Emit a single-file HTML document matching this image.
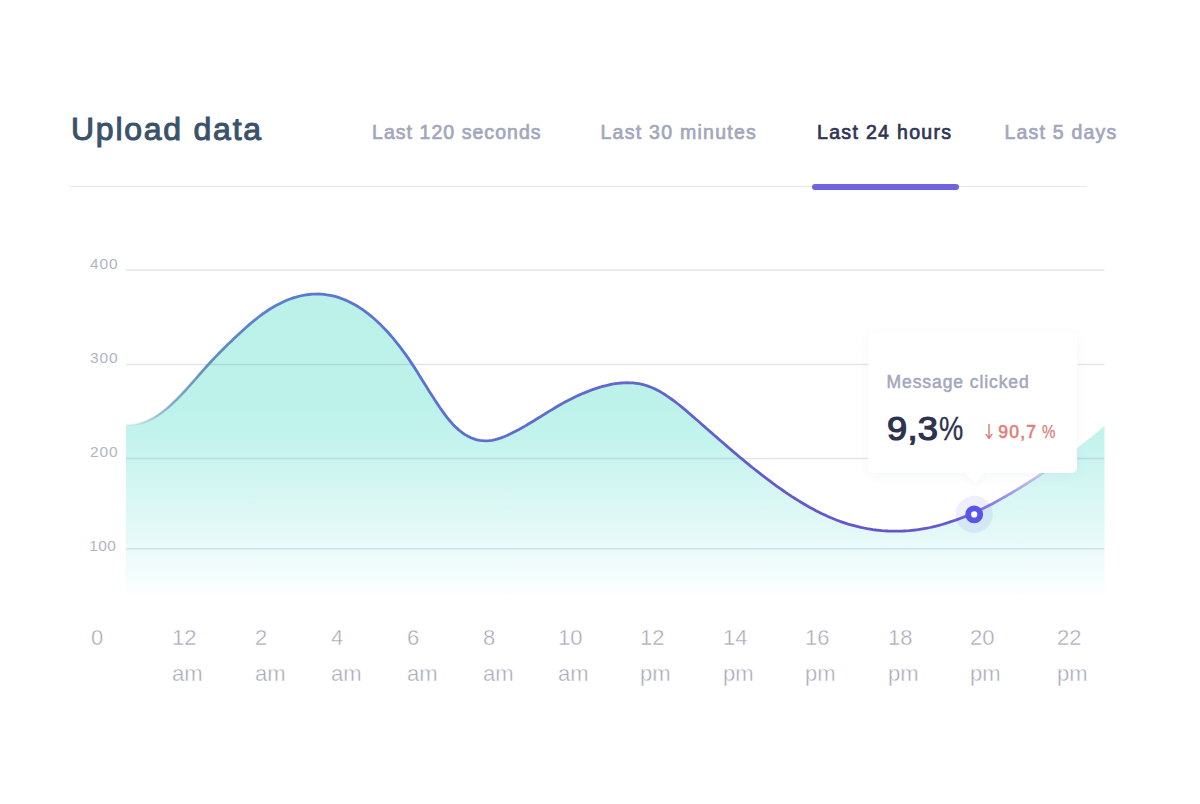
<!DOCTYPE html>
<html><head><meta charset="utf-8"><title>Upload data</title>
<style>
*{margin:0;padding:0;box-sizing:border-box}
html,body{width:1200px;height:804px;background:#fff;overflow:hidden;font-family:"Liberation Sans",sans-serif}
.abs{position:absolute}
h1{position:absolute;left:71px;top:110.6px;font-size:32px;line-height:36px;font-weight:normal;-webkit-text-stroke:1.05px #3b526b;color:#3b526b;letter-spacing:1.75px;white-space:nowrap}
.tab{position:absolute;top:120px;font-size:19.5px;line-height:24px;font-weight:normal;-webkit-text-stroke:0.7px currentColor;color:#a3a7bc;white-space:nowrap}
.tab.on{color:#2f3554}
.hr{position:absolute;left:70px;top:185.7px;width:1017px;height:1.5px;background:#e4e6ec}
.ul{position:absolute;left:812px;top:184px;width:146.5px;height:6px;border-radius:3px;background:#6f63e0}
svg{position:absolute;left:0;top:0}
.yl{position:absolute;left:90px;font-size:15.5px;letter-spacing:0.85px;line-height:18px;color:#b2b5c1;white-space:nowrap}
.xl{position:absolute;top:619.6px;font-size:22px;line-height:35.5px;color:#a6a9b7;-webkit-text-stroke:0.4px #fff;white-space:nowrap}
.xl span{display:block}
.xl span+span{margin-top:0.9px}
.tip{position:absolute;left:868px;top:333px;width:209px;height:140px;background:#fff;border-radius:5px;box-shadow:0 2px 12px rgba(80,90,160,0.055)}
.tip:after{content:"";position:absolute;left:99.5px;bottom:-7px;width:14px;height:14px;background:#fff;transform:rotate(45deg);box-shadow:3px 3px 6px rgba(80,90,160,0.03)}
.arr{position:absolute;left:117px;top:91px}
.t3 i{font-style:normal;-webkit-text-stroke:0.25px currentColor;margin-left:4.5px;display:inline-block;transform:scaleX(0.86);transform-origin:0 50%;letter-spacing:0}
.t1{position:absolute;left:18.5px;top:37.5px;font-size:17.5px;letter-spacing:0.92px;line-height:22px;font-weight:normal;-webkit-text-stroke:0.5px currentColor;color:#a3a7bc;white-space:nowrap}
.t2{position:absolute;left:19px;top:75.5px;font-size:32.5px;letter-spacing:0;line-height:40px;font-weight:normal;-webkit-text-stroke:1.2px currentColor;color:#2d3250;white-space:nowrap}
.t2 b{font-weight:normal;display:inline-block;transform:scaleX(1.115);transform-origin:0 50%;letter-spacing:0.2px}
.t2 i{font-style:normal;font-weight:normal;-webkit-text-stroke:0.3px currentColor;display:inline-block;transform:scaleX(0.84);transform-origin:0 50%;letter-spacing:0;margin-left:6px}
.t3{position:absolute;left:130.3px;top:87.5px;font-size:17.5px;letter-spacing:1.2px;line-height:22px;font-weight:normal;-webkit-text-stroke:0.6px currentColor;color:#e17d78;white-space:nowrap}
</style></head><body>
<h1>Upload data</h1>
<div class="tab" style="left:372px;letter-spacing:1.05px">Last 120 seconds</div>
<div class="tab" style="left:600.5px;letter-spacing:1.26px">Last 30 minutes</div>
<div class="tab on" style="left:817px;letter-spacing:1.33px">Last 24 hours</div>
<div class="tab" style="left:1004.5px;letter-spacing:1.2px">Last 5 days</div>
<div class="hr"></div><div class="ul"></div>
<svg width="1200" height="804" viewBox="0 0 1200 804">
<defs>
<linearGradient id="fill" gradientUnits="userSpaceOnUse" x1="0" y1="294" x2="0" y2="598">
<stop offset="0" stop-color="#bbf1e9"/><stop offset="0.3816" stop-color="#bdf2ea"/><stop offset="0.4803" stop-color="#c4f3ed"/><stop offset="0.5789" stop-color="#cff5f1"/><stop offset="0.6776" stop-color="#d9f7f4"/><stop offset="0.7763" stop-color="#e3f9f7"/><stop offset="0.8355" stop-color="#e9faf9"/><stop offset="0.9243" stop-color="#f4fdfc"/><stop offset="1" stop-color="#ffffff"/>
</linearGradient>
<linearGradient id="stroke" gradientUnits="userSpaceOnUse" x1="126" y1="0" x2="1104.5" y2="0">
<stop offset="0.0000" stop-color="#78aabe" stop-opacity="0"/><stop offset="0.0245" stop-color="#78a8be" stop-opacity="0.25"/><stop offset="0.0501" stop-color="#6f9cc0" stop-opacity="0.6"/><stop offset="0.0807" stop-color="#6690c4" stop-opacity="0.9"/><stop offset="0.1165" stop-color="#5f86cc" stop-opacity="1"/><stop offset="0.1962" stop-color="#5a78d0" stop-opacity="1"/><stop offset="0.3618" stop-color="#5e6fcc" stop-opacity="1"/><stop offset="0.5130" stop-color="#6068cc" stop-opacity="1"/><stop offset="0.6888" stop-color="#6558c8" stop-opacity="1"/><stop offset="0.7910" stop-color="#6655cc" stop-opacity="1"/><stop offset="0.8523" stop-color="#6a5ad4" stop-opacity="1"/><stop offset="0.8932" stop-color="#7a6ede" stop-opacity="0.8"/><stop offset="0.9341" stop-color="#8a80e0" stop-opacity="0.4"/><stop offset="0.9668" stop-color="#8a80e0" stop-opacity="0"/>
</linearGradient>
<linearGradient id="thin" gradientUnits="userSpaceOnUse" x1="126" y1="0" x2="290" y2="0">
<stop offset="0" stop-color="#6a90b4" stop-opacity="0"/><stop offset="0.15" stop-color="#6a90b4" stop-opacity="0.3"/><stop offset="0.3" stop-color="#648cb4" stop-opacity="0.7"/><stop offset="0.52" stop-color="#5f84b8" stop-opacity="0.8"/><stop offset="0.76" stop-color="#5c80c4" stop-opacity="0.4"/><stop offset="1" stop-color="#5c80c4" stop-opacity="0"/>
</linearGradient>
</defs>
<path d="M126.0,424.6 L129.0,424.8 L132.0,424.7 L135.0,424.4 L138.0,423.9 L141.0,423.2 L144.0,422.3 L147.0,421.1 L150.0,419.7 L153.0,418.2 L156.0,416.4 L159.0,414.5 L162.0,412.3 L165.0,410.0 L168.0,407.6 L171.0,404.9 L174.0,402.1 L177.0,399.2 L180.0,396.1 L183.0,393.0 L186.0,389.7 L189.0,386.4 L192.0,383.0 L195.0,379.6 L198.0,376.2 L201.0,372.8 L204.0,369.4 L207.0,366.0 L210.0,362.7 L213.0,359.5 L216.0,356.4 L219.0,353.3 L222.0,350.2 L225.0,347.2 L228.0,344.3 L231.0,341.4 L234.0,338.5 L237.0,335.7 L240.0,332.9 L243.0,330.2 L246.0,327.5 L249.0,324.9 L252.0,322.3 L255.0,319.9 L258.0,317.5 L261.0,315.2 L264.0,313.0 L267.0,311.0 L270.0,309.0 L273.0,307.2 L276.0,305.5 L279.0,303.9 L282.0,302.4 L285.0,301.0 L288.0,299.8 L291.0,298.7 L294.0,297.7 L297.0,296.8 L300.0,296.0 L303.0,295.4 L306.0,294.8 L309.0,294.5 L312.0,294.2 L315.0,294.1 L318.0,294.0 L321.0,294.2 L324.0,294.4 L327.0,294.8 L330.0,295.3 L333.0,295.9 L336.0,296.7 L339.0,297.6 L342.0,298.7 L345.0,299.9 L348.0,301.2 L351.0,302.7 L354.0,304.3 L357.0,306.0 L360.0,307.9 L363.0,309.9 L366.0,312.1 L369.0,314.4 L372.0,316.8 L375.0,319.5 L378.0,322.2 L381.0,325.1 L384.0,328.2 L387.0,331.3 L390.0,334.7 L393.0,338.2 L396.0,341.8 L399.0,345.6 L402.0,349.6 L405.0,353.7 L408.0,357.9 L411.0,362.4 L414.0,366.9 L417.0,371.6 L420.0,376.4 L423.0,381.2 L426.0,386.1 L429.0,390.9 L432.0,395.6 L435.0,400.3 L438.0,404.8 L441.0,409.2 L444.0,413.3 L447.0,417.3 L450.0,421.0 L453.0,424.4 L456.0,427.4 L459.0,430.1 L462.0,432.5 L465.0,434.6 L468.0,436.3 L471.0,437.8 L474.0,438.9 L477.0,439.8 L480.0,440.4 L483.0,440.7 L486.0,440.8 L489.0,440.7 L492.0,440.3 L495.0,439.7 L498.0,438.8 L501.0,437.9 L504.0,436.7 L507.0,435.5 L510.0,434.1 L513.0,432.6 L516.0,431.1 L519.0,429.5 L522.0,427.8 L525.0,426.1 L528.0,424.3 L531.0,422.5 L534.0,420.7 L537.0,418.8 L540.0,417.0 L543.0,415.1 L546.0,413.2 L549.0,411.4 L552.0,409.6 L555.0,407.8 L558.0,406.0 L561.0,404.3 L564.0,402.6 L567.0,401.0 L570.0,399.5 L573.0,398.0 L576.0,396.5 L579.0,395.1 L582.0,393.8 L585.0,392.6 L588.0,391.4 L591.0,390.2 L594.0,389.2 L597.0,388.2 L600.0,387.2 L603.0,386.4 L606.0,385.6 L609.0,384.9 L612.0,384.2 L615.0,383.7 L618.0,383.3 L621.0,383.0 L624.0,382.8 L627.0,382.7 L630.0,382.8 L633.0,382.9 L636.0,383.3 L639.0,383.7 L642.0,384.4 L645.0,385.2 L648.0,386.1 L651.0,387.2 L654.0,388.5 L657.0,390.0 L660.0,391.6 L663.0,393.4 L666.0,395.3 L669.0,397.3 L672.0,399.5 L675.0,401.7 L678.0,404.0 L681.0,406.4 L684.0,408.9 L687.0,411.4 L690.0,414.0 L693.0,416.6 L696.0,419.2 L699.0,421.8 L702.0,424.5 L705.0,427.1 L708.0,429.8 L711.0,432.4 L714.0,435.0 L717.0,437.6 L720.0,440.2 L723.0,442.8 L726.0,445.4 L729.0,448.0 L732.0,450.6 L735.0,453.1 L738.0,455.6 L741.0,458.2 L744.0,460.6 L747.0,463.1 L750.0,465.6 L753.0,468.0 L756.0,470.4 L759.0,472.7 L762.0,475.1 L765.0,477.4 L768.0,479.7 L771.0,481.9 L774.0,484.1 L777.0,486.3 L780.0,488.4 L783.0,490.5 L786.0,492.6 L789.0,494.6 L792.0,496.6 L795.0,498.5 L798.0,500.4 L801.0,502.2 L804.0,504.0 L807.0,505.8 L810.0,507.5 L813.0,509.1 L816.0,510.7 L819.0,512.2 L822.0,513.7 L825.0,515.1 L828.0,516.5 L831.0,517.8 L834.0,519.0 L837.0,520.2 L840.0,521.3 L843.0,522.3 L846.0,523.3 L849.0,524.3 L852.0,525.1 L855.0,525.9 L858.0,526.7 L861.0,527.4 L864.0,528.0 L867.0,528.6 L870.0,529.1 L873.0,529.6 L876.0,530.0 L879.0,530.3 L882.0,530.6 L885.0,530.8 L888.0,531.0 L891.0,531.1 L894.0,531.2 L897.0,531.2 L900.0,531.1 L903.0,531.0 L906.0,530.8 L909.0,530.6 L912.0,530.3 L915.0,530.0 L918.0,529.6 L921.0,529.1 L924.0,528.6 L927.0,528.1 L930.0,527.5 L933.0,526.8 L936.0,526.1 L939.0,525.3 L942.0,524.5 L945.0,523.6 L948.0,522.7 L951.0,521.7 L954.0,520.7 L957.0,519.6 L960.0,518.5 L963.0,517.4 L966.0,516.2 L969.0,515.0 L972.0,513.7 L975.0,512.4 L978.0,511.0 L981.0,509.6 L984.0,508.1 L987.0,506.6 L990.0,505.0 L993.0,503.4 L996.0,501.8 L999.0,500.1 L1002.0,498.4 L1005.0,496.7 L1008.0,494.9 L1011.0,493.2 L1014.0,491.4 L1017.0,489.6 L1020.0,487.7 L1023.0,485.9 L1026.0,484.0 L1029.0,482.1 L1032.0,480.1 L1035.0,478.2 L1038.0,476.2 L1041.0,474.2 L1044.0,472.2 L1047.0,470.1 L1050.0,468.0 L1053.0,465.9 L1056.0,463.8 L1059.0,461.6 L1062.0,459.4 L1065.0,457.2 L1068.0,455.0 L1071.0,452.8 L1074.0,450.5 L1077.0,448.2 L1080.0,445.9 L1083.0,443.5 L1086.0,441.1 L1089.0,438.7 L1092.0,436.3 L1095.0,433.9 L1098.0,431.4 L1101.0,428.9 L1104.0,426.4 L1104.5,425.9 L1104.5,600 L126,600 Z" fill="url(#fill)"/>
<g stroke="#5c6484" stroke-opacity="0.17" stroke-width="1.5">
<line x1="126" x2="1104.5" y1="270" y2="270"/>
<line x1="126" x2="1104.5" y1="364.5" y2="364.5"/>
<line x1="126" x2="1104.5" y1="458.5" y2="458.5"/>
<line x1="126" x2="1104.5" y1="548.75" y2="548.75"/>
</g>
<path d="M126.0,424.6 L129.0,424.8 L132.0,424.7 L135.0,424.4 L138.0,423.9 L141.0,423.2 L144.0,422.3 L147.0,421.1 L150.0,419.7 L153.0,418.2 L156.0,416.4 L159.0,414.5 L162.0,412.3 L165.0,410.0 L168.0,407.6 L171.0,404.9 L174.0,402.1 L177.0,399.2 L180.0,396.1 L183.0,393.0 L186.0,389.7 L189.0,386.4 L192.0,383.0 L195.0,379.6 L198.0,376.2 L201.0,372.8 L204.0,369.4 L207.0,366.0 L210.0,362.7 L213.0,359.5 L216.0,356.4 L219.0,353.3 L222.0,350.2 L225.0,347.2 L228.0,344.3 L231.0,341.4 L234.0,338.5 L237.0,335.7 L240.0,332.9 L243.0,330.2 L246.0,327.5 L249.0,324.9 L252.0,322.3 L255.0,319.9 L258.0,317.5 L261.0,315.2 L264.0,313.0 L267.0,311.0 L270.0,309.0 L273.0,307.2 L276.0,305.5 L279.0,303.9 L282.0,302.4 L285.0,301.0 L288.0,299.8 L291.0,298.7 L294.0,297.7 L297.0,296.8 L300.0,296.0 L303.0,295.4 L306.0,294.8 L309.0,294.5 L312.0,294.2 L315.0,294.1 L318.0,294.0 L321.0,294.2 L324.0,294.4 L327.0,294.8 L330.0,295.3 L333.0,295.9 L336.0,296.7 L339.0,297.6 L342.0,298.7 L345.0,299.9 L348.0,301.2 L351.0,302.7 L354.0,304.3 L357.0,306.0 L360.0,307.9 L363.0,309.9 L366.0,312.1 L369.0,314.4 L372.0,316.8 L375.0,319.5 L378.0,322.2 L381.0,325.1 L384.0,328.2 L387.0,331.3 L390.0,334.7 L393.0,338.2 L396.0,341.8 L399.0,345.6 L402.0,349.6 L405.0,353.7 L408.0,357.9 L411.0,362.4 L414.0,366.9 L417.0,371.6 L420.0,376.4 L423.0,381.2 L426.0,386.1 L429.0,390.9 L432.0,395.6 L435.0,400.3 L438.0,404.8 L441.0,409.2 L444.0,413.3 L447.0,417.3 L450.0,421.0 L453.0,424.4 L456.0,427.4 L459.0,430.1 L462.0,432.5 L465.0,434.6 L468.0,436.3 L471.0,437.8 L474.0,438.9 L477.0,439.8 L480.0,440.4 L483.0,440.7 L486.0,440.8 L489.0,440.7 L492.0,440.3 L495.0,439.7 L498.0,438.8 L501.0,437.9 L504.0,436.7 L507.0,435.5 L510.0,434.1 L513.0,432.6 L516.0,431.1 L519.0,429.5 L522.0,427.8 L525.0,426.1 L528.0,424.3 L531.0,422.5 L534.0,420.7 L537.0,418.8 L540.0,417.0 L543.0,415.1 L546.0,413.2 L549.0,411.4 L552.0,409.6 L555.0,407.8 L558.0,406.0 L561.0,404.3 L564.0,402.6 L567.0,401.0 L570.0,399.5 L573.0,398.0 L576.0,396.5 L579.0,395.1 L582.0,393.8 L585.0,392.6 L588.0,391.4 L591.0,390.2 L594.0,389.2 L597.0,388.2 L600.0,387.2 L603.0,386.4 L606.0,385.6 L609.0,384.9 L612.0,384.2 L615.0,383.7 L618.0,383.3 L621.0,383.0 L624.0,382.8 L627.0,382.7 L630.0,382.8 L633.0,382.9 L636.0,383.3 L639.0,383.7 L642.0,384.4 L645.0,385.2 L648.0,386.1 L651.0,387.2 L654.0,388.5 L657.0,390.0 L660.0,391.6 L663.0,393.4 L666.0,395.3 L669.0,397.3 L672.0,399.5 L675.0,401.7 L678.0,404.0 L681.0,406.4 L684.0,408.9 L687.0,411.4 L690.0,414.0 L693.0,416.6 L696.0,419.2 L699.0,421.8 L702.0,424.5 L705.0,427.1 L708.0,429.8 L711.0,432.4 L714.0,435.0 L717.0,437.6 L720.0,440.2 L723.0,442.8 L726.0,445.4 L729.0,448.0 L732.0,450.6 L735.0,453.1 L738.0,455.6 L741.0,458.2 L744.0,460.6 L747.0,463.1 L750.0,465.6 L753.0,468.0 L756.0,470.4 L759.0,472.7 L762.0,475.1 L765.0,477.4 L768.0,479.7 L771.0,481.9 L774.0,484.1 L777.0,486.3 L780.0,488.4 L783.0,490.5 L786.0,492.6 L789.0,494.6 L792.0,496.6 L795.0,498.5 L798.0,500.4 L801.0,502.2 L804.0,504.0 L807.0,505.8 L810.0,507.5 L813.0,509.1 L816.0,510.7 L819.0,512.2 L822.0,513.7 L825.0,515.1 L828.0,516.5 L831.0,517.8 L834.0,519.0 L837.0,520.2 L840.0,521.3 L843.0,522.3 L846.0,523.3 L849.0,524.3 L852.0,525.1 L855.0,525.9 L858.0,526.7 L861.0,527.4 L864.0,528.0 L867.0,528.6 L870.0,529.1 L873.0,529.6 L876.0,530.0 L879.0,530.3 L882.0,530.6 L885.0,530.8 L888.0,531.0 L891.0,531.1 L894.0,531.2 L897.0,531.2 L900.0,531.1 L903.0,531.0 L906.0,530.8 L909.0,530.6 L912.0,530.3 L915.0,530.0 L918.0,529.6 L921.0,529.1 L924.0,528.6 L927.0,528.1 L930.0,527.5 L933.0,526.8 L936.0,526.1 L939.0,525.3 L942.0,524.5 L945.0,523.6 L948.0,522.7 L951.0,521.7 L954.0,520.7 L957.0,519.6 L960.0,518.5 L963.0,517.4 L966.0,516.2 L969.0,515.0 L972.0,513.7 L975.0,512.4 L978.0,511.0 L981.0,509.6 L984.0,508.1 L987.0,506.6 L990.0,505.0 L993.0,503.4 L996.0,501.8 L999.0,500.1 L1002.0,498.4 L1005.0,496.7 L1008.0,494.9 L1011.0,493.2 L1014.0,491.4 L1017.0,489.6 L1020.0,487.7 L1023.0,485.9 L1026.0,484.0 L1029.0,482.1 L1032.0,480.1 L1035.0,478.2 L1038.0,476.2 L1041.0,474.2 L1044.0,472.2 L1047.0,470.1 L1050.0,468.0 L1053.0,465.9 L1056.0,463.8 L1059.0,461.6 L1062.0,459.4 L1065.0,457.2 L1068.0,455.0 L1071.0,452.8 L1074.0,450.5 L1077.0,448.2 L1080.0,445.9 L1083.0,443.5 L1086.0,441.1 L1089.0,438.7 L1092.0,436.3 L1095.0,433.9 L1098.0,431.4 L1101.0,428.9 L1104.0,426.4 L1104.5,425.9" fill="none" stroke="url(#stroke)" stroke-width="2.8" stroke-linejoin="round" stroke-linecap="round"/>
<path d="M126.0,424.6 L129.0,424.8 L132.0,424.7 L135.0,424.4 L138.0,423.9 L141.0,423.2 L144.0,422.3 L147.0,421.1 L150.0,419.7 L153.0,418.2 L156.0,416.4 L159.0,414.5 L162.0,412.3 L165.0,410.0 L168.0,407.6 L171.0,404.9 L174.0,402.1 L177.0,399.2 L180.0,396.1 L183.0,393.0 L186.0,389.7 L189.0,386.4 L192.0,383.0 L195.0,379.6 L198.0,376.2 L201.0,372.8 L204.0,369.4 L207.0,366.0 L210.0,362.7 L213.0,359.5 L216.0,356.4 L219.0,353.3 L222.0,350.2 L225.0,347.2 L228.0,344.3 L231.0,341.4 L234.0,338.5 L237.0,335.7 L240.0,332.9 L243.0,330.2 L246.0,327.5 L249.0,324.9 L252.0,322.3 L255.0,319.9 L258.0,317.5 L261.0,315.2 L264.0,313.0 L267.0,311.0 L270.0,309.0 L273.0,307.2 L276.0,305.5 L279.0,303.9 L282.0,302.4 L285.0,301.0 L288.0,299.8" fill="none" stroke="url(#thin)" stroke-width="1.3" stroke-linejoin="round"/>
</svg>
<div class="yl" style="top:255.00000000000003px">400</div>
<div class="yl" style="top:348.79999999999995px">300</div>
<div class="yl" style="top:442.79999999999995px">200</div>
<div class="yl" style="top:536.5px;left:89.3px;letter-spacing:0.35px">100</div>
<div class="xl" style="left:91px"><span>0</span><span></span></div>
<div class="xl" style="left:172px"><span>12</span><span>am</span></div>
<div class="xl" style="left:255px"><span>2</span><span>am</span></div>
<div class="xl" style="left:331px"><span>4</span><span>am</span></div>
<div class="xl" style="left:407px"><span>6</span><span>am</span></div>
<div class="xl" style="left:483px"><span>8</span><span>am</span></div>
<div class="xl" style="left:558px"><span>10</span><span>am</span></div>
<div class="xl" style="left:640px"><span>12</span><span>pm</span></div>
<div class="xl" style="left:723px"><span>14</span><span>pm</span></div>
<div class="xl" style="left:805px"><span>16</span><span>pm</span></div>
<div class="xl" style="left:888px"><span>18</span><span>pm</span></div>
<div class="xl" style="left:970px"><span>20</span><span>pm</span></div>
<div class="xl" style="left:1057px"><span>22</span><span>pm</span></div>
<div class="tip"><div class="t1">Message clicked</div><div class="t2"><b>9,3</b><i>%</i></div><svg class="arr" width="9" height="17" viewBox="0 0 9 17"><path d="M4 0.6 V14 M1.1 10.4 L4 14.2 L6.9 10.4" fill="none" stroke="#e17d78" stroke-width="1.45" stroke-linecap="round" stroke-linejoin="round"/></svg><div class="t3">90,7<i>%</i></div></div>
<svg width="1200" height="804" viewBox="0 0 1200 804" style="pointer-events:none">
<circle cx="974.2" cy="514.4" r="18.6" fill="#5b5be8" fill-opacity="0.105"/>
<circle cx="974.2" cy="514.4" r="6" fill="#fff" stroke="#5856e9" stroke-width="5.8"/>
</svg>
</body></html>
